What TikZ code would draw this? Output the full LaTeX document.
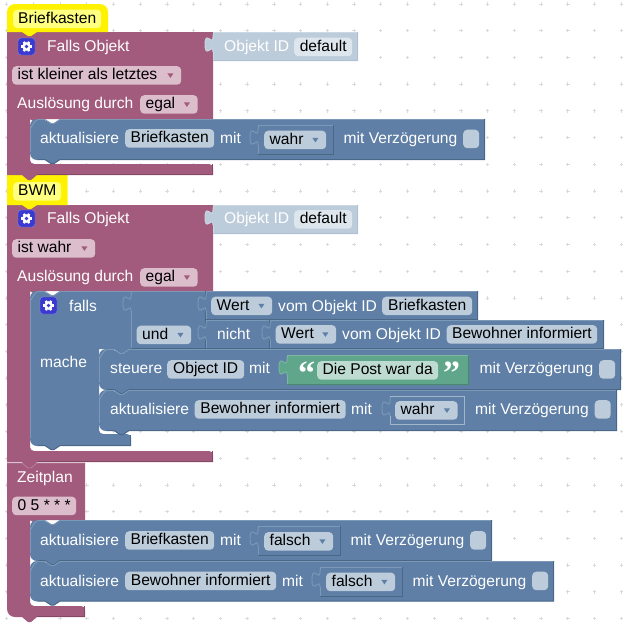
\documentclass[tikz,border=0pt]{standalone}
\usepackage{fontspec}
\setmainfont{Liberation Sans}
\newfontfamily\quotefamily{Liberation Serif}
\newcommand{\blockfont}{\fontsize{15.6}{18}\selectfont}
\definecolor{blockblue}{HTML}{5F7FA6}
\definecolor{blockbluel}{HTML}{7C99B7}
\definecolor{blockblued}{HTML}{4A6788}
\definecolor{shadowblue}{HTML}{BDCCDB}
\definecolor{shadowbluel}{HTML}{CBD7E3}
\definecolor{shadowblued}{HTML}{B0C0D2}
\definecolor{blockgreen}{HTML}{5FA68B}
\definecolor{blockgreenl}{HTML}{7CB7A3}
\definecolor{blockgreend}{HTML}{4A8570}
\definecolor{hatpurple}{HTML}{A25B7C}
\definecolor{hatpurplel}{HTML}{B77C99}
\definecolor{hatpurpled}{HTML}{844966}
\definecolor{fieldpurple}{HTML}{DBBDCC}
\definecolor{fieldgreen}{HTML}{BDDBD1}
\definecolor{fieldpale}{HTML}{DEE6ED}
\definecolor{fieldyellow}{HTML}{FFFF80}
\definecolor{gearblue}{HTML}{3A3AD0}
\definecolor{griddot}{HTML}{DADADA}
\tikzset{
  lbl/.style={anchor=base west,inner sep=0pt,text=white,font=\blockfont},
  fld/.style={anchor=north west,inner xsep=0pt,inner ysep=0pt,rounded corners=4pt,text=black,font=\blockfont,
    text height=12pt,text depth=3.5pt,minimum height=18.5pt},
  chkbox/.style={anchor=north west,inner sep=0pt,rounded corners=4pt,fill=shadowblue,minimum width=16pt,minimum height=18.5pt},
  edge/.style={line width=0.9pt}
}
% field without arrow, text centred
\newcommand{\fld}[6]{\node[fld,fill=#1,minimum width=#5pt] (#2) at (#3,#4) {#6};}
% dropdown field, text on the left, small triangle on the right
\newcommand{\ddf}[7]{%
  \node[fld,fill=#1,minimum width=#5pt] (#2) at (#3,#4) {\makebox[#5pt][l]{\hspace{5.5pt}#6}};
  \fill[#7] ([shift={(-14,-2)}]#2.east) -- ([shift={(-8,-2)}]#2.east) -- ([shift={(-11,2.5)}]#2.east) -- cycle;}
% statement block: x, top, right, bottom
\newcommand{\stmtblk}[4]{%
  \fill[blockblue] (#1+30,#2) -- (#3,#2) -- (#3,#4) -- (#1+30,#4) -- ++(-6,4) -- ++(-3,0) -- ++(-6,-4)
    [rounded corners=7pt] -- (#1,#4) -- (#1,#2) -- (#1+15,#2) [sharp corners] -- ++(6,4) -- ++(3,0) -- cycle;
  \draw[blockbluel,edge] (#1+.5,#4-8) -- (#1+.5,#2+8) to[out=-90,in=180] (#1+8,#2+.5) -- (#1+15,#2+.5) -- ++(6,4) -- ++(3,0) -- (#1+30,#2+.5) -- (#3,#2+.5);
  \draw[blockblued,edge] (#3-.5,#2) -- (#3-.5,#4-.5) -- (#1+30,#4-.5) -- ++(-6,4) -- ++(-3,0) -- ++(-6,-4) -- (#1+8,#4-.5);}
% value block with puzzle tab: colour, x, top, right, bottom
\newcommand{\valblk}[5]{%
  \fill[#1] (#2,#3) -- (#4,#3) -- (#4,#5) -- (#2,#5) -- (#2,#3+20)
    .. controls (#2,#3+10) and (#2-8,#3+28) .. (#2-8,#3+12.5)
    .. controls (#2-8,#3-3) and (#2,#3+15) .. (#2,#3+5) -- cycle;
  \draw[#1l,edge] (#2+.5,#5) -- (#2+.5,#3+20) (#2,#3+20)
    .. controls (#2,#3+10) and (#2-8,#3+28) .. (#2-8,#3+12.5)
    .. controls (#2-8,#3-3) and (#2,#3+15) .. (#2,#3+5) -- (#2+.5,#3+.5) -- (#4,#3+.5);
  \draw[#1d,edge] (#4-.5,#3) -- (#4-.5,#5-.5) -- (#2,#5-.5);}
% purple block with a hole: left, top, right, holetop, holebottom, barbottom, corner
\newcommand{\hatblk}[7]{%
  \fill[hatpurple] (#1,#2) -- (#3,#2) -- (#3,#4) -- (#1+38,#4) -- ++(-6,4) -- ++(-3,0) -- ++(-6,-4) -- (#1+23,#4)
    [rounded corners=4pt] -- (#1+23,#5) -- (#3,#5) [sharp corners] -- (#3,#6) -- (#1+30,#6) -- ++(-6,5) -- ++(-3,0) -- ++(-6,-5)
    [rounded corners=#7pt] -- (#1,#6) -- (#1,#2) [sharp corners] -- cycle;
  \draw[hatpurpled,edge] (#3-.5,#5) -- (#3-.5,#6-.5) -- (#1+30,#6-.5);}
\newcommand{\gearicon}[2]{%
  \fill[gearblue,draw=gearblue!60!white,rounded corners=3pt] (#1,#2) rectangle (#1+17,#2+17);
  \foreach \a in {0,60,...,300}
    \draw[white,line width=2.4pt] (#1+8.5,#2+8.5) -- ++(\a:5.4);
  \fill[white] (#1+8.5,#2+8.5) circle[radius=4.3];
  \fill[gearblue] (#1+8.5,#2+8.5) circle[radius=1.9];}
\begin{document}
\begin{tikzpicture}[x=1pt,y=-1pt]
  \useasboundingbox (0,0) rectangle (627,627);
  \fill[white] (0,0) rectangle (627,627);
  % dotted grid
  \foreach \i in {0,...,23}
    \foreach \j in {0,...,23}
      \draw[griddot,line width=0.8pt] (6.7+\i*26.72-1.7,4+\j*26.72) -- ++(3.4,0) (6.7+\i*26.72,4+\j*26.72-1.7) -- ++(0,3.4);

  % purple and yellow bodies
  \hatblk{7}{205}{213}{291}{451}{462}{0.1}
  \fill[yellow] (7,175) -- (67.5,175) -- (67.5,205) -- (37,205) -- ++(-6,4) -- ++(-3,0) -- ++(-6,-4) -- (7,205) -- cycle;
  \hatblk{7}{32}{213}{119}{164}{175}{0.1}
  \fill[yellow] [rounded corners=8pt] (7,32) -- (7,4) -- (108,4) [sharp corners] -- (108,32) -- (37,32) -- ++(-6,4) -- ++(-3,0) -- ++(-6,-4) -- cycle;

  % first group
  \fld{fieldyellow}{nameBox}{13}{9.5}{88}{Briefkasten}
  \gearicon{18}{38}
  \node[lbl] (fallsA) at (47,51) {Falls Objekt};
  \valblk{shadowblue}{213}{32}{358}{61}
  \node[lbl] (idA) at (224,51) {Objekt ID};
  \fld{fieldpale}{defaultA}{294}{37.5}{58}{default}
  \ddf{fieldpurple}{compareA}{12}{66}{169}{ist kleiner als letztes}{hatpurple}
  \node[lbl] (triggerA) at (17,108.5) {Auslösung durch};
  \ddf{fieldpurple}{ackA}{140}{95}{57.5}{egal}{hatpurple}
  \stmtblk{30}{119}{485}{160}
  \node[lbl] (updA) at (40,143.5) {aktualisiere};
  \fld{shadowblue}{objA}{125}{129}{89}{Briefkasten}
  \node[lbl] (mitA) at (220,143.5) {mit};
  \valblk{blockblue}{258}{125}{334}{155}
  \ddf{shadowblue}{valA}{264}{130.5}{62}{wahr}{blockblue}
  \node[lbl] (delayA) at (343.5,143.5) {mit Verzögerung};
  \node[chkbox] (chkA) at (463,129.5) {};

  % second group
  \fld{fieldyellow}{nameBoxB}{13}{182}{48}{BWM}
  \gearicon{18}{210}
  \node[lbl] (fallsB) at (47,223.5) {Falls Objekt};
  \valblk{shadowblue}{213}{205}{358}{234}
  \node[lbl] (idB) at (224,223.5) {Objekt ID};
  \fld{fieldpale}{defaultB}{294}{210}{58}{default}
  \ddf{fieldpurple}{compareB}{12}{239}{83}{ist wahr}{hatpurple}
  \node[lbl] (triggerB) at (17,281.5) {Auslösung durch};
  \ddf{fieldpurple}{ackB}{140}{268}{57.5}{egal}{hatpurple}

  % falls block
  \fill[blockblue] (60,291) -- (131,291) -- (131,349) -- (129,349) -- ++(-6,4) -- ++(-3,0) -- ++(-6,-4) -- (99,349)
    [rounded corners=4pt] -- (99,434) -- (131,434) [sharp corners] -- (131,446) -- (60,446) -- ++(-6,4) -- ++(-3,0) -- ++(-6,-4)
    [rounded corners=7pt] -- (30,446) -- (30,291) -- (45,291) [sharp corners] -- ++(6,4) -- ++(3,0) -- cycle;
  \draw[blockbluel,edge] (30.5,438) -- (30.5,299) to[out=-90,in=180] (38,291.5) -- (45,291.5) -- ++(6,4) -- ++(3,0) -- (60,291.5) -- (131,291.5);
  \draw[blockblued,edge] (130.5,435) -- (130.5,445.5) -- (60,445.5) -- ++(-6,4) -- ++(-3,0) -- ++(-6,-4) -- (38,445.5);
  \gearicon{40}{297}
  \node[lbl] (ifLbl) at (69,311) {falls};
  \node[lbl] (doLbl) at (40,367) {mache};
  \valblk{blockblue}{131}{291}{206}{349}
  \ddf{shadowblue}{andOp}{136.5}{325.5}{54.5}{und}{blockblue}
  \valblk{blockblue}{206}{291}{478}{320}
  \ddf{shadowblue}{wertA}{211}{296.5}{61}{Wert}{blockblue}
  \node[lbl] (vomA) at (278,311) {vom Objekt ID};
  \fld{shadowblue}{objB}{382}{296.5}{90}{Briefkasten}
  \valblk{blockblue}{206}{320}{270}{349}
  \node[lbl] (notLbl) at (217,339) {nicht};
  \valblk{blockblue}{270}{320}{604}{349}
  \ddf{shadowblue}{wertB}{275.5}{325}{60.5}{Wert}{blockblue}
  \node[lbl] (vomB) at (342,339) {vom Objekt ID};
  \fld{shadowblue}{objC}{446.5}{325}{150.5}{Bewohner informiert}

  % statements in falls
  \stmtblk{99}{349}{621}{390}
  \node[lbl] (ctrlLbl) at (110,373.5) {steuere};
  \fld{shadowblue}{objD}{167}{360}{77}{Object ID}
  \node[lbl] (mitB) at (249,373.5) {mit};
  \valblk{blockgreen}{287}{355}{469}{385}
  \node[lbl,font=\quotefamily\bfseries\fontsize{34}{34}\selectfont] (quoteL) at (298,384) {“};
  \fld{fieldgreen}{textA}{317}{361}{121}{Die Post war da}
  \node[lbl,font=\quotefamily\bfseries\fontsize{34}{34}\selectfont] (quoteR) at (443,384) {”};
  \node[lbl] (delayB) at (479.5,373.5) {mit Verzögerung};
  \node[chkbox] (chkB) at (599,360) {};
  \stmtblk{99}{390}{617}{431}
  \node[lbl] (updB) at (110,414) {aktualisiere};
  \fld{shadowblue}{objE}{194.5}{400}{151}{Bewohner informiert}
  \node[lbl] (mitC) at (351,414) {mit};
  \valblk{blockblue}{390}{396}{464.5}{425}
  \draw[shadowblue!70!blockblue,edge] (390.5,425) -- (390.5,416) (390,396.5) -- (464,396.5) -- (464,424.5) -- (390,424.5);
  \ddf{shadowblue}{valB}{395}{401}{62.5}{wahr}{blockblue}
  \node[lbl] (delayC) at (475,414) {mit Verzögerung};
  \node[chkbox] (chkC) at (594.5,400) {};

  % schedule group
  \hatblk{7}{463}{85}{520}{606}{617}{8}
  \fill[hatpurple] (22,462) -- ++(6,5) -- ++(3,0) -- ++(6,-5) -- cycle;
  \draw[hatpurplel,edge] (7,463) -- (22,463) -- ++(6,5) -- ++(3,0) -- ++(6,-5) -- (85,463);
  \node[lbl] (planLbl) at (17,482) {Zeitplan};
  \fld{fieldpurple}{cronBox}{12}{496.5}{64}{0 5 * * *}
  \stmtblk{30}{520}{492}{561}
  \node[lbl] (updC) at (40,545) {aktualisiere};
  \fld{shadowblue}{objF}{125}{531}{89}{Briefkasten}
  \node[lbl] (mitD) at (220,545) {mit};
  \valblk{blockblue}{258}{526}{340.5}{556}
  \ddf{shadowblue}{valC}{264}{532}{69}{falsch}{blockblue}
  \node[lbl] (delayD) at (350.5,545) {mit Verzögerung};
  \node[chkbox] (chkD) at (470,531) {};
  \stmtblk{30}{561}{554}{601.5}
  \node[lbl] (updD) at (40,586) {aktualisiere};
  \fld{shadowblue}{objG}{125}{571.5}{151}{Bewohner informiert}
  \node[lbl] (mitE) at (282,586) {mit};
  \valblk{blockblue}{320}{567}{402.5}{597}
  \ddf{shadowblue}{valD}{326}{572.5}{69}{falsch}{blockblue}
  \node[lbl] (delayE) at (412.5,586) {mit Verzögerung};
  \node[chkbox] (chkE) at (532,571.5) {};
\end{tikzpicture}
\end{document}
